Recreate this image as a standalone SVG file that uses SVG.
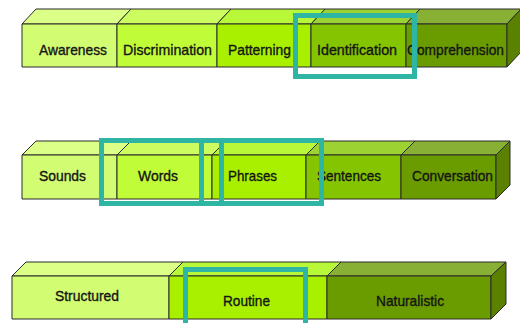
<svg xmlns="http://www.w3.org/2000/svg" width="520" height="323" viewBox="0 0 520 323">
  <style>
    .edge { stroke: #2b2b2b; stroke-width: 1; stroke-linejoin: round; }
    .lbl { font-family: "Liberation Sans", Arial, sans-serif; font-size: 15px; fill: #141414; stroke: #141414; stroke-width: 0.35; }
    .t1 { fill: #dcff88; } .f1 { fill: #d2fc72; }
    .t2 { fill: #ccfc60; } .f2 { fill: #c0fc38; }
    .t3 { fill: #b8f838; } .f3 { fill: #a8f000; }
    .t4 { fill: #9cd232; } .f4 { fill: #84c400; }
    .t5 { fill: #88b034; } .f5 { fill: #6a9c00; } .s5 { fill: #5a8200; }
    .focus { fill: none; stroke: #2fb5a3; stroke-width: 5; }
  </style>

  <!-- Row 1: listening skill levels -->
  <g id="awareness">
    <polygon class="t1 edge" points="22,24 36,9 131,9 117,24"/>
    <rect class="f1 edge" x="22" y="24" width="95" height="43"/>
    <text class="lbl" x="39" y="55" textLength="68" lengthAdjust="spacingAndGlyphs">Awareness</text>
  </g>
  <g id="discrimination">
    <polygon class="t2 edge" points="117,24 131,9 231,9 217,24"/>
    <rect class="f2 edge" x="117" y="24" width="100" height="43"/>
    <text class="lbl" x="123" y="55" textLength="89" lengthAdjust="spacingAndGlyphs">Discrimination</text>
  </g>
  <g id="patterning">
    <polygon class="t3 edge" points="217,24 231,9 325,9 311,24"/>
    <rect class="f3 edge" x="217" y="24" width="94" height="43"/>
    <text class="lbl" x="228" y="55" textLength="63" lengthAdjust="spacingAndGlyphs">Patterning</text>
  </g>
  <g id="identification">
    <polygon class="t4 edge" points="311,24 325,9 420,9 406,24"/>
    <rect class="f4 edge" x="311" y="24" width="95" height="43"/>
    <text class="lbl" x="317" y="55" textLength="80" lengthAdjust="spacingAndGlyphs">Identification</text>
  </g>
  <g id="comprehension">
    <polygon class="t5 edge" points="406,24 420,9 521,9 507,24"/>
    <rect class="f5 edge" x="406" y="24" width="101" height="43"/>
    <polygon class="s5 edge" points="507,24 521,9 521,52 507,67"/>
    <text class="lbl" x="407" y="55" textLength="97" lengthAdjust="spacingAndGlyphs">Comprehension</text>
  </g>

  <!-- Row 2: units of language -->
  <g id="sounds">
    <polygon class="t1 edge" points="22,155 36,141 131,141 117,155"/>
    <rect class="f1 edge" x="22" y="155" width="95" height="44"/>
    <text class="lbl" x="39" y="181" textLength="47" lengthAdjust="spacingAndGlyphs">Sounds</text>
  </g>
  <g id="words">
    <polygon class="t2 edge" points="117,155 131,141 226,141 212,155"/>
    <rect class="f2 edge" x="117" y="155" width="95" height="44"/>
    <text class="lbl" x="138" y="181" textLength="40" lengthAdjust="spacingAndGlyphs">Words</text>
  </g>
  <g id="phrases">
    <polygon class="t3 edge" points="212,155 226,141 320,141 306,155"/>
    <rect class="f3 edge" x="212" y="155" width="94" height="44"/>
    <text class="lbl" x="228" y="181" textLength="49" lengthAdjust="spacingAndGlyphs">Phrases</text>
  </g>
  <g id="sentences">
    <polygon class="t4 edge" points="306,155 320,141 415,141 401,155"/>
    <rect class="f4 edge" x="306" y="155" width="95" height="44"/>
    <text class="lbl" x="317" y="181" textLength="64" lengthAdjust="spacingAndGlyphs">Sentences</text>
  </g>
  <g id="conversation">
    <polygon class="t5 edge" points="401,155 415,141 510,141 496,155"/>
    <rect class="f5 edge" x="401" y="155" width="95" height="44"/>
    <polygon class="s5 edge" points="496,155 510,141 510,185 496,199"/>
    <text class="lbl" x="412" y="181" textLength="81" lengthAdjust="spacingAndGlyphs">Conversation</text>
  </g>

  <!-- Row 3: listening context -->
  <g id="structured">
    <polygon class="t1 edge" points="12,276 26,262 183,262 169,276"/>
    <rect class="f1 edge" x="12" y="276" width="157" height="43"/>
    <text class="lbl" x="55" y="301" textLength="64" lengthAdjust="spacingAndGlyphs">Structured</text>
  </g>
  <g id="routine">
    <polygon class="t3 edge" points="169,276 183,262 341,262 327,276"/>
    <rect class="f3 edge" x="169" y="276" width="158" height="43"/>
    <text class="lbl" x="223" y="306" textLength="47" lengthAdjust="spacingAndGlyphs">Routine</text>
  </g>
  <g id="naturalistic">
    <polygon class="t5 edge" points="327,276 341,262 506,262 491,276"/>
    <rect class="f5 edge" x="327" y="276" width="164" height="43"/>
    <polygon class="s5 edge" points="491,276 506,262 506,304 491,319"/>
    <text class="lbl" x="376" y="306" textLength="68" lengthAdjust="spacingAndGlyphs">Naturalistic</text>
  </g>

  <!-- Highlight frames -->
  <g id="highlights">
    <rect class="focus" x="295.5" y="15.5" width="119" height="61"/>
    <rect class="focus" x="101.5" y="140.5" width="120" height="63"/>
    <rect class="focus" x="201.5" y="140.5" width="120" height="63"/>
    <rect class="focus" x="185.5" y="269.5" width="120" height="60"/>
  </g>
</svg>
